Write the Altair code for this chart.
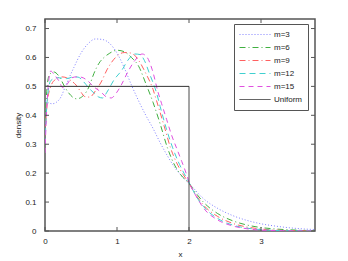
import altair as alt
import pandas as pd

series_names = ["m=3", "m=6", "m=9", "m=12", "m=15", "Uniform"]
series_colors = ["#8080ff", "#40b040", "#ff6060", "#40d0d0", "#e050e0", "#333333"]
series_dashes = [[1, 2], [6, 3, 1, 3], [6, 3, 1, 3], [6, 4], [5, 4], [1, 0]]

m3_x = [0, 0.1, 0.2, 0.3, 0.4, 0.5, 0.6, 0.7, 0.8, 0.9, 1.0, 1.1, 1.2, 1.3, 1.4, 1.5,
        1.6, 1.7, 1.8, 1.9, 2.0, 2.2, 2.4, 2.6, 2.8, 3.0, 3.2, 3.4, 3.6, 3.75]
m3_y = [0.45, 0.44, 0.455, 0.51, 0.565, 0.615, 0.648, 0.664, 0.662, 0.648, 0.615, 0.565,
        0.505, 0.45, 0.4, 0.355, 0.305, 0.26, 0.22, 0.19, 0.165, 0.112, 0.078, 0.054,
        0.037, 0.025, 0.017, 0.011, 0.007, 0.005]

m6_x = [0, 0.03, 0.06, 0.12, 0.2, 0.26, 0.33, 0.44, 0.54, 0.61, 0.68, 0.75, 0.82, 0.9,
        1.0, 1.1, 1.2, 1.3, 1.4, 1.5, 1.6, 1.7, 1.8, 1.9, 2.0, 2.1, 2.2, 2.4, 2.6, 2.8,
        3.0, 3.2, 3.5, 3.75]
m6_y = [0.38, 0.5, 0.54, 0.55, 0.533, 0.505, 0.477, 0.457, 0.47, 0.498, 0.545, 0.58,
        0.6, 0.615, 0.625, 0.62, 0.6, 0.57, 0.51, 0.445, 0.37, 0.288, 0.228, 0.19, 0.165,
        0.13, 0.1, 0.06, 0.036, 0.021, 0.012, 0.007, 0.003, 0.001]

m9_x = [0, 0.03, 0.08, 0.15, 0.23, 0.3, 0.36, 0.43, 0.5, 0.55, 0.62, 0.71, 0.78, 0.86,
        0.98, 1.1, 1.2, 1.3, 1.4, 1.5, 1.55, 1.67, 1.74, 1.83, 1.92, 2.0, 2.1, 2.2, 2.4,
        2.6, 2.8, 3.0, 3.3, 3.75]
m9_y = [0.33, 0.44, 0.5, 0.525, 0.533, 0.53, 0.52, 0.505, 0.48, 0.465, 0.463, 0.488,
        0.515, 0.557, 0.6, 0.617, 0.615, 0.59, 0.545, 0.49, 0.45, 0.35, 0.29, 0.235,
        0.195, 0.165, 0.123, 0.09, 0.05, 0.027, 0.014, 0.007, 0.002, 0.0]

m12_x = [0, 0.03, 0.08, 0.17, 0.3, 0.4, 0.46, 0.54, 0.61, 0.68, 0.74, 0.8, 0.86, 0.96,
         1.07, 1.15, 1.25, 1.32, 1.38, 1.45, 1.55, 1.6, 1.69, 1.77, 1.85, 1.93, 2.0, 2.1,
         2.2, 2.4, 2.6, 2.8, 3.0, 3.3, 3.75]
m12_y = [0.3, 0.45, 0.52, 0.53, 0.527, 0.533, 0.532, 0.515, 0.494, 0.477, 0.464, 0.46,
         0.48, 0.523, 0.557, 0.59, 0.612, 0.61, 0.59, 0.545, 0.477, 0.43, 0.35, 0.29,
         0.24, 0.2, 0.168, 0.12, 0.085, 0.043, 0.021, 0.01, 0.005, 0.001, 0.0]

m15_x = [0, 0.03, 0.08, 0.13, 0.19, 0.25, 0.3, 0.375, 0.44, 0.5, 0.58, 0.68, 0.78, 0.85,
         0.92, 0.99, 1.06, 1.15, 1.25, 1.35, 1.42, 1.49, 1.57, 1.62, 1.69, 1.76, 1.83,
         1.9, 1.96, 2.0, 2.1, 2.2, 2.4, 2.6, 2.8, 3.0, 3.3, 3.75]
m15_y = [0.27, 0.45, 0.553, 0.54, 0.52, 0.495, 0.505, 0.53, 0.533, 0.532, 0.522, 0.498,
         0.48, 0.464, 0.46, 0.477, 0.505, 0.55, 0.59, 0.612, 0.6, 0.557, 0.48, 0.44,
         0.385, 0.33, 0.285, 0.24, 0.2, 0.17, 0.12, 0.08, 0.038, 0.018, 0.008, 0.003,
         0.001, 0.0]

uni_x = [0, 2, 2]
uni_y = [0.5, 0.5, 0]

x_ticks = [0, 1, 2, 3]
y_ticks = [0, 0.1, 0.2, 0.3, 0.4, 0.5, 0.6, 0.7]
x_max = 3.75
y_max = 0.733

W, H = 270, 212
FONT = "Liberation Sans"
AXC = "#555555"

rows = []
for name, xs_, ys_ in [("m=3", m3_x, m3_y), ("m=6", m6_x, m6_y), ("m=9", m9_x, m9_y),
                       ("m=12", m12_x, m12_y), ("m=15", m15_x, m15_y)]:
    for i, (a, b) in enumerate(zip(xs_, ys_)):
        rows.append({"series": name, "x": a, "y": b, "i": i})
curves = pd.DataFrame(rows)
uni = pd.DataFrame({"series": "Uniform", "x": uni_x, "y": uni_y, "i": range(len(uni_x))})

color = alt.Color("series:N", scale=alt.Scale(domain=series_names, range=series_colors),
                  legend=alt.Legend(title=None, orient="none", legendX=189, legendY=5,
                                    symbolType="stroke", symbolSize=961, symbolStrokeWidth=1,
                                    clipHeight=11, rowPadding=2, labelFontSize=8,
                                    labelFont=FONT, labelColor="#222", labelOffset=3,
                                    strokeColor=AXC, fillColor="white", padding=5,
                                    symbolOffset=0))
dash = alt.StrokeDash("series:N", scale=alt.Scale(domain=series_names, range=series_dashes),
                      legend=None)

x_axis = alt.Axis(values=x_ticks, title="x", format="d", tickSize=0, domain=False,
                  grid=False, labelPadding=6, titlePadding=5, labelOverlap=False,
                  labelFlush=False)
y_axis = alt.Axis(values=y_ticks, title="density", tickSize=0, domain=False,
                  grid=False, labelPadding=9, titlePadding=2, labelOverlap=False,
                  labelFlush=False,
                  labelExpr="datum.value == 0 ? '0' : format(datum.value, '.1f')")
x_scale = alt.Scale(domain=[0, x_max], nice=False)
y_scale = alt.Scale(domain=[0, y_max], nice=False)
xs = alt.X("x:Q", scale=x_scale, axis=x_axis)
ys = alt.Y("y:Q", scale=y_scale, axis=y_axis)

lines = alt.Chart(curves).mark_line(interpolate="monotone", strokeWidth=1, clip=True).encode(
    x=xs, y=ys, color=color, strokeDash=dash, order="i:Q")
uline = alt.Chart(uni).mark_line(strokeWidth=1, clip=True).encode(
    x=xs, y=ys, color=color, strokeDash=dash, order="i:Q")

xt = pd.DataFrame({"x": x_ticks})
yt = pd.DataFrame({"y": y_ticks})
tb = alt.Chart(xt).mark_rule(color=AXC, strokeWidth=1).encode(
    x=xs, y=alt.value(H), y2=alt.value(H - 4))
tt = alt.Chart(xt).mark_rule(color=AXC, strokeWidth=1).encode(
    x=xs, y=alt.value(0), y2=alt.value(4))
tl = alt.Chart(yt).mark_rule(color=AXC, strokeWidth=1).encode(
    y=ys, x=alt.value(0), x2=alt.value(4))
tr = alt.Chart(yt).mark_rule(color=AXC, strokeWidth=1).encode(
    y=ys, x=alt.value(W), x2=alt.value(W - 4))

chart = alt.layer(lines, uline, tb, tt, tl, tr).properties(
    width=W, height=H,
    padding={"left": 37, "top": 11, "right": 25, "bottom": 30},
    autosize=alt.AutoSizeParams(type="none"),
    background="white",
).configure_view(stroke=AXC, strokeWidth=1.5).configure_axis(
    labelFont=FONT, labelFontSize=8, labelColor="#222", titleFont=FONT,
    titleFontSize=8, titleFontWeight="normal", titleColor="#222")

chart.save("out.html", embed_options={"renderer": "svg", "actions": False})
